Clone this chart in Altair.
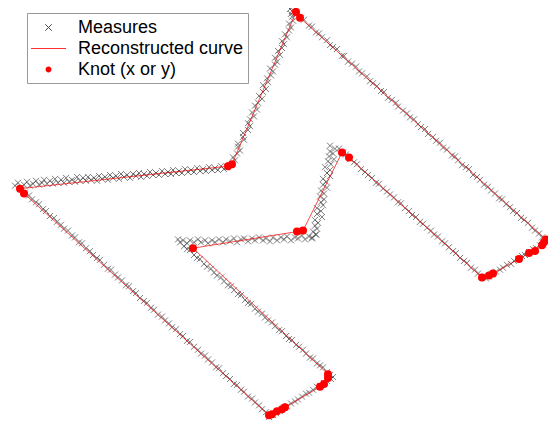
import altair as alt
import pandas as pd

# Measures (image coordinates: x to the right, y downward), one list per side
edge_ja = [(235,158),(233,155),(237,151),(240,148),(238,144),(238,141),(244,137),(243,134),(243,130),(248,127),
           (250,123),(248,120),(250,116),(254,113),(252,109),(257,106),(255,102),(258,99),(262,95),(259,92),
           (263,88),(266,85),(263,81),(268,78),(267,74),(271,71),(273,67),(270,64),(275,60),(277,57),
           (275,53),(280,50),(278,46),(282,43),(284,39),(282,36),(287,32),(285,29),(289,25),(291,22),
           (289,18),(293,15),(292,11),(291,8),(292,5),(290,3)]
edge_ab = [(294,5),(297,8),(301,12),(304,14),(309,20),(312,21),(316,27),(319,28),(322,32),(327,35),
           (330,40),(333,42),(337,44),(342,51),(344,51),(348,57),(352,59),(356,62),(359,67),(362,69),
           (367,72),(370,77),(373,79),(377,82),(381,87),(384,88),(388,94),(392,96),(396,99),(398,103),
           (403,107),(407,110),(410,114),(414,116),(418,121),(421,124),(425,126),(428,131),(433,134),(436,138),
           (440,140),(443,145),(447,147),(452,153),(455,154),(458,158),(462,163),(466,165),(469,167),(473,173),
           (477,175),(480,178),(484,183),(488,185),(491,189),(495,192),(499,197),(502,198),(506,203),(510,206),
           (513,210),(517,212),(521,217),(524,219),(528,222),(532,227),(535,230),(539,233),(542,237),(546,240)]
edge_bc = [(547,241),(543,244),(540,245),(536,248),(533,249),(529,252),(525,255),(522,256),(518,259),(514,261),
           (511,264),(507,265),(503,268),(500,270),(496,272),(492,275),(489,277),(486,279)]
edge_cd = [(482,277),(478,274),(475,270),(471,268),(467,263),(464,261),(460,258),(456,253),(453,251),(449,247),
           (445,243),(442,241),(438,236),(434,234),(431,230),(427,227),(423,223),(420,221),(416,216),(412,214),
           (409,210),(405,207),(401,202),(398,201),(394,196),(390,193),(387,190),(383,187),(379,182),(376,181),
           (372,176),(368,173),(365,170),(361,167),(357,162),(354,160),(350,157),(346,152),(343,150),(339,146)]
edge_de = [(330,143),(335,146),(330,149),(333,151),(329,154),(334,157),(328,159),(331,162),(325,165),(330,168),
           (327,171),(330,174),(323,177),(326,180),(323,183),(327,186),(321,189),(324,192),(320,195),(324,198),
           (321,201),(323,204),(317,207),(321,210),(317,213),(322,216),(315,219),(318,222),(315,225),(317,228),
           (313,231),(316,234),(312,237)]
edge_ef = [(316,234),(312,238),(309,236),(305,239),(302,235),(298,238),(295,237),(291,240),(287,236),(284,239),
           (281,237),(277,240),(273,237),(270,241),(266,238),(263,240),(259,237),(255,240),(252,238),(248,241),
           (244,238),(241,239),(237,242),(234,238),(230,241),(226,239),(223,242),(219,239),(215,242),(212,240),
           (208,243),(205,240),(201,242),(198,239),(194,242),(190,240),(187,243),(183,240),(180,242),(178,239)]
edge_fg = [(184,246),(187,249),(190,250),(194,255),(197,258),(200,259),(204,264),(207,267),(211,269),(214,273),
           (217,276),(221,278),(224,282),(228,286),(231,287),(234,291),(238,295),(241,296),(245,301),(248,304),
           (251,305),(255,310),(258,313),(262,315),(265,319),(268,322),(272,324),(275,328),(279,332),(282,333),
           (286,338),(289,341),(292,342),(296,347),(299,349),(303,352),(306,356),(310,360),(313,361),(317,366),
           (320,368),(323,370),(327,375),(330,378),(333,380)]
edge_gh = [(331,382),(327,384),(324,386),(320,389),(317,390),(313,393),(309,396),(306,397),(302,400),(298,403),
           (295,405),(291,407),(287,410),(284,411),(280,415),(276,417),(273,419),(269,421)]
edge_hi = [(266,416),(262,413),(259,409),(255,406),(252,402),(248,400),(244,395),(241,393),(237,388),(234,387),
           (230,382),(226,379),(223,376),(219,371),(216,370),(212,365),(208,362),(205,358),(201,356),(198,352),
           (194,349),(190,344),(187,343),(183,338),(180,336),(176,331),(172,329),(169,325),(165,322),(162,318),
           (158,316),(154,311),(151,309),(147,304),(144,302),(140,299),(136,294),(133,292),(129,287),(126,286),
           (122,281),(118,278),(115,275),(111,270),(108,269),(104,265),(100,260),(97,258),(93,255),(90,251),
           (86,248),(82,243),(79,242),(75,237),(72,235),(68,230),(64,228),(61,224),(57,221),(54,217),
           (50,215),(46,210),(43,208),(39,203),(36,201),(32,198),(29,194),(25,191),(22,188)]
edge_ij = [(15,184),(18,181),(21,186),(24,183),(27,180),(30,184),(33,182),(36,179),(39,183),(42,181),
           (44,178),(47,182),(50,179),(53,182),(55,177),(58,181),(61,178),(64,181),(66,176),(69,180),
           (72,178),(75,180),(77,175),(80,179),(83,176),(86,179),(88,175),(91,178),(94,176),(97,179),
           (99,174),(102,177),(105,175),(108,178),(110,173),(113,176),(116,174),(119,177),(121,172),(124,175),
           (127,173),(130,176),(133,172),(136,174),(139,171),(141,175),(144,172),(147,174),(150,170),(153,173),
           (156,171),(159,173),(162,169),(165,172),(168,170),(171,172),(173,168),(176,171),(179,169),(182,171),
           (185,167),(188,170),(191,168),(194,170),(197,166),(200,169),(203,167),(206,169),(209,165),(212,168),
           (215,166),(218,168),(221,164),(224,167),(227,165),(230,163)]

# Knots, in the order the reconstructed curve passes through them
knots = [(228,164),(232,162),(296,6),(300,12),(546,239),(544,242),(542,245),(535,251),(529,253),(519,259),
         (493,274),(489,276),(482,278),(349,155),(342,150),(303,230),(297,231),(193,248),(328,377),(328,381),
         (324,387),(320,390),(285,411),(282,413),(277,415),(272,418),(269,419),(24,192),(20,187)]

legend_labels = ["Measures", "Reconstructed curve", "Knot (x or y)"]

measures = edge_ja + edge_ab + edge_bc + edge_cd + edge_de + edge_ef + edge_fg + edge_gh + edge_hi + edge_ij
meas_df = pd.DataFrame(measures, columns=["x", "y"])
knot_df = pd.DataFrame(knots, columns=["x", "y"])
knot_df["order"] = range(len(knot_df))
curve_df = pd.concat([knot_df, knot_df.iloc[[0]].assign(order=len(knot_df))], ignore_index=True)
leg_df = pd.DataFrame({"type": legend_labels, "x": [None] * 3, "y": [None] * 3})

xs = alt.Scale(domain=[8, 548], nice=False, zero=False)
ys = alt.Scale(domain=[2, 425], nice=False, zero=False, reverse=True)


def X():
    return alt.X("x:Q", scale=xs, axis=None)


def Y():
    return alt.Y("y:Q", scale=ys, axis=None)


X_PATH = "M-0.32,-0.32L0.32,0.32M-0.32,0.32L0.32,-0.32"
LINE_PATH = "M-1.75,0L1.75,0"
DOT_PATH = "M-0.29,0A0.29,0.29,0,1,1,0.29,0A0.29,0.29,0,1,1,-0.29,0Z"

legend = alt.Legend(title=None, orient="none", legendX=19, legendY=5, padding=4,
                    fillColor="white", strokeColor="#999999", symbolSize=400,
                    symbolStrokeWidth=1, symbolOffset=7, labelFont="Liberation Sans",
                    labelFontSize=18, labelOffset=19, rowPadding=1, labelColor="black",
                    labelLimit=0)

meas_layer = alt.Chart(meas_df).mark_point(
    shape="M-1,-1L1,1M-1,1L1,-1", size=36, filled=False, stroke="#333333",
    strokeWidth=0.8, opacity=0.8
).encode(x=X(), y=Y())

curve_layer = alt.Chart(curve_df).mark_line(color="red", strokeWidth=0.7).encode(
    x=X(), y=Y(), order="order:Q")

knot_layer = alt.Chart(knot_df).mark_circle(size=64, color="red", opacity=1).encode(x=X(), y=Y())

leg_layer = alt.Chart(leg_df).mark_point(opacity=1).encode(
    x=X(), y=Y(),
    shape=alt.Shape("type:N", scale=alt.Scale(domain=legend_labels, range=[X_PATH, LINE_PATH, DOT_PATH]), legend=legend),
    fill=alt.Fill("type:N", scale=alt.Scale(domain=legend_labels, range=["transparent", "transparent", "red"]), legend=legend),
    stroke=alt.Stroke("type:N", scale=alt.Scale(domain=legend_labels, range=["#444444", "#ff3030", "transparent"]), legend=legend),
)

chart = alt.layer(meas_layer, curve_layer, knot_layer, leg_layer).properties(
    width=540, height=413, autosize=alt.AutoSizeParams(type="none"), padding=0
).configure_view(stroke=None)

chart.save("out.html", embed_options={"renderer": "svg", "actions": False})
